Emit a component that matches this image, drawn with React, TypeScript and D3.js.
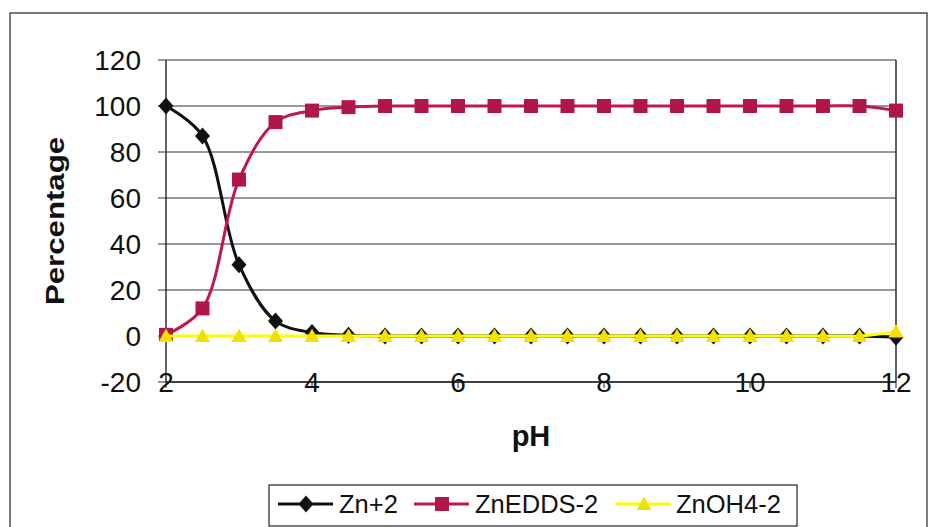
import { useEffect } from "react";
import * as d3 from "d3";

const pH = [2, 2.5, 3, 3.5, 4, 4.5, 5, 5.5, 6, 6.5, 7, 7.5, 8, 8.5, 9, 9.5, 10, 10.5, 11, 11.5, 12];
const zn = [100, 87, 31, 6.5, 1.5, 0.3, 0, 0, 0, 0, 0, 0, 0, 0, 0, 0, 0, 0, 0, 0, -0.5];
const znEdds = [0.5, 12, 68, 93, 98, 99.5, 100, 100, 100, 100, 100, 100, 100, 100, 100, 100, 100, 100, 100, 100, 98];
const znOh4 = [0, 0, 0, 0, 0, 0, 0, 0, 0, 0, 0, 0, 0, 0, 0, 0, 0, 0, 0, 0, 2];
const xTicks = [2, 4, 6, 8, 10, 12];
const yTicks = [-20, 0, 20, 40, 60, 80, 100, 120];

const series = [
  { name: "Zn+2", values: zn, line: "#111111", fill: "#111111", shape: "diamond" },
  { name: "ZnEDDS-2", values: znEdds, line: "#C0174D", fill: "#B0164A", shape: "square" },
  { name: "ZnOH4-2", values: znOh4, line: "#FFFF00", fill: "#F2E000", shape: "triangle" },
];

const W = 930;
const H = 527;
const margin = { left: 166, right: 34, top: 60, bottom: 145 };

const x = d3.scaleLinear().domain([2, 12]).range([margin.left, W - margin.right]);
const y = d3.scaleLinear().domain([-20, 120]).range([H - margin.bottom, margin.top]);

// marker outlines, centred on 0,0
const markerPath: Record<string, string> = {
  diamond: "M0,-8.5L7.5,0L0,8.5L-7.5,0Z",
  square: "M-7,-7H7V7H-7Z",
  triangle: "M0,-7.5L7.5,6L-7.5,6Z",
};

const font = "Arial, 'Liberation Sans', sans-serif";

export default function App() {
  useEffect(() => {
    document.body.style.margin = "0";
  }, []);

  const line = d3
    .line<number>()
    .x((_, i) => x(pH[i]))
    .y((d) => y(d))
    .curve(d3.curveCatmullRom.alpha(0.5));

  // legend layout: line start, text start
  const legendItems = [
    { x: 278, textX: 339 },
    { x: 414, textX: 475 },
    { x: 616, textX: 676 },
  ];
  const ly = 504;

  return (
    <svg width={W} height={H} style={{ display: "block", background: "#fff" }}>
      <rect x={10} y={13} width={917} height={530} fill="none" stroke="#222" strokeWidth={1.2} />
      {/* gridlines */}
      {yTicks.map((t) => (
        <line key={t} x1={x(2) - 8} x2={x(12)} y1={y(t)} y2={y(t)} stroke="#333" strokeWidth={1} />
      ))}
      <line x1={x(2)} x2={x(2)} y1={y(120)} y2={y(-20)} stroke="#222" strokeWidth={1.4} />
      <line x1={x(12)} x2={x(12)} y1={y(120)} y2={y(-20)} stroke="#222" strokeWidth={1.4} />
      <line x1={x(2)} x2={x(12)} y1={y(-20)} y2={y(-20)} stroke="#222" strokeWidth={1.4} />
      {xTicks.map((t) => (
        <line key={t} x1={x(t)} x2={x(t)} y1={y(-20)} y2={y(-20) + 6} stroke="#222" />
      ))}
      {/* y tick labels */}
      {yTicks.map((t) => (
        <text key={t} x={x(2) - 25} y={y(t)} dy="0.36em" textAnchor="end" fontFamily={font} fontSize={28} fill="#111">
          {t}
        </text>
      ))}
      {/* x tick labels */}
      {xTicks.map((t) => (
        <text key={t} x={x(t)} y={y(-20)} dy="0.36em" textAnchor="middle" fontFamily={font} fontSize={28} fill="#111">
          {t}
        </text>
      ))}
      <text
        transform={`translate(55,${(y(120) + y(-20)) / 2}) rotate(-90) scale(1.2,1)`}
        textAnchor="middle"
        dy="0.36em"
        fontFamily={font}
        fontWeight="bold"
        fontSize={26}
        fill="#111"
      >
        Percentage
      </text>
      <text x={531} y={446} textAnchor="middle" fontFamily={font} fontWeight="bold" fontSize={29} fill="#111">
        pH
      </text>
      {/* series */}
      {series.map((s) => (
        <g key={s.name}>
          <path d={line(s.values) ?? ""} fill="none" stroke={s.line} strokeWidth={3} />
          {s.values.map((v, i) => (
            <path key={i} d={markerPath[s.shape]} transform={`translate(${x(pH[i])},${y(v)})`} fill={s.fill} />
          ))}
        </g>
      ))}
      {/* legend */}
      <rect x={269} y={485} width={528} height={41} fill="#fff" stroke="#222" strokeWidth={1.2} />
      {series.map((s, k) => (
        <g key={s.name}>
          <line x1={legendItems[k].x} x2={legendItems[k].x + 55} y1={ly} y2={ly} stroke={s.line} strokeWidth={3} />
          <path d={markerPath[s.shape]} transform={`translate(${legendItems[k].x + 28},${ly})`} fill={s.fill} />
          <text x={legendItems[k].textX} y={ly} dy="0.36em" fontFamily={font} fontSize={25.5} fill="#111">
            {s.name}
          </text>
        </g>
      ))}
    </svg>
  );
}
